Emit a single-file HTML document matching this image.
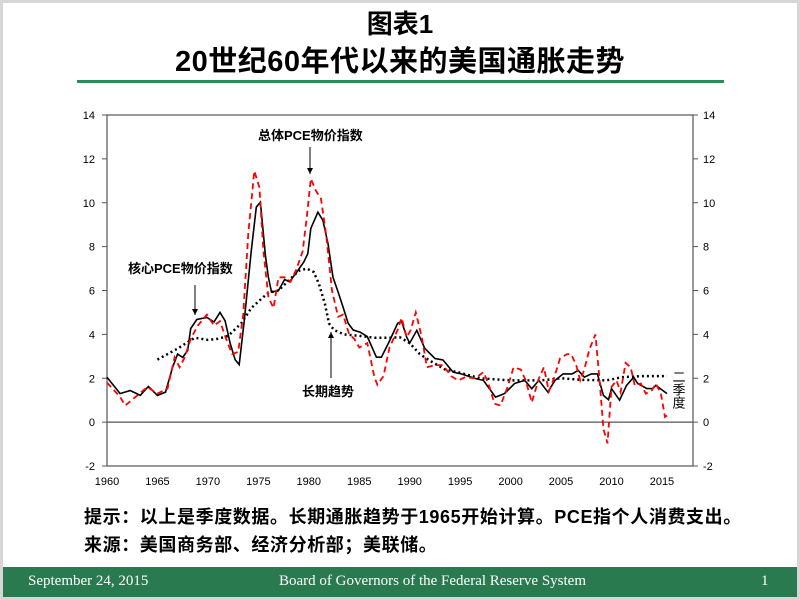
<!DOCTYPE html>
<html><head><meta charset="utf-8"><style>
body{margin:0;width:800px;height:600px;overflow:hidden;background:#fff;font-family:"Liberation Sans","Noto Sans CJK SC",sans-serif}
#frame{position:absolute;left:0;top:0;width:794px;height:594px;border:3px solid #d6d6d6;background:#fff}
.t{position:absolute;left:0;width:800px;text-align:center;font-weight:bold;color:#000}
</style></head><body>
<div id="frame"></div>
<div class="t" style="top:4px;font-size:26px">图表1</div>
<div class="t" style="top:38px;font-size:29px;letter-spacing:0.5px">20世纪60年代以来的美国通胀走势</div>
<div style="position:absolute;left:77px;top:80px;width:647px;height:3px;background:#2e8b57"></div>
<svg id="chart" width="800" height="600" style="position:absolute;left:0;top:0"></svg>
<div style="position:absolute;left:84px;top:503px;font-size:18px;font-weight:bold;letter-spacing:0.6px">提示：以上是季度数据。长期通胀趋势于1965开始计算。PCE指个人消费支出。</div>
<div style="position:absolute;left:84px;top:531px;font-size:18px;font-weight:bold;letter-spacing:0.6px">来源：美国商务部、经济分析部；美联储。</div>
<div style="position:absolute;left:3px;top:567px;width:794px;height:30px;background:#2a7a50;color:#fff;font-family:'Liberation Serif',serif;font-size:15px">
<span style="position:absolute;left:25px;top:6px">September 24, 2015</span>
<span style="position:absolute;left:276px;top:6px">Board of Governors of the Federal Reserve System</span>
<span style="position:absolute;left:758px;top:6px">1</span>
</div>
<script>
const yTicks=[-2,0,2,4,6,8,10,12,14];
const xTicks=[1960,1965,1970,1975,1980,1985,1990,1995,2000,2005,2010,2015];
const coreYears=[1960,1961.3,1962.3,1963.3,1964.1,1965,1965.8,1966.5,1967,1967.5,1968,1968.3,1968.9,1969.9,1970.6,1971.2,1971.7,1972.2,1972.7,1973.1,1973.6,1974.3,1974.8,1975.2,1975.7,1976,1976.3,1977,1977.6,1978.1,1978.8,1979.5,1979.9,1980.2,1980.9,1981.4,1981.9,1982.4,1982.9,1983.4,1983.9,1984.4,1985.1,1985.8,1986.7,1987.2,1988,1988.8,1989.2,1989.7,1990,1990.7,1991.5,1992.5,1993.3,1994.3,1995.1,1996.5,1997.3,1998.5,1999.4,2000.4,2001.4,2002.1,2002.8,2003.7,2004.4,2005.2,2006.1,2006.7,2007.3,2008,2008.6,2009.2,2009.7,2010,2010.8,2011.5,2012.2,2012.6,2013.5,2014.1,2014.4,2015.5];
const coreValues=[2.05,1.3,1.44,1.22,1.63,1.22,1.37,2.5,3.1,2.95,3.27,4.27,4.68,4.77,4.57,5.0,4.62,3.6,2.85,2.62,4.6,7.82,9.8,10.03,7.6,6.6,5.93,6.0,6.5,6.4,6.84,7.3,7.68,8.83,9.57,9.2,8.14,6.6,5.93,5.24,4.5,4.2,4.1,3.9,2.96,2.96,3.7,4.5,4.6,3.87,3.6,4.18,3.36,2.9,2.83,2.28,2.2,1.99,1.9,1.14,1.3,1.76,1.9,1.53,1.9,1.37,1.9,2.2,2.2,2.36,2.05,2.2,2.2,1.22,1.02,1.53,1.0,1.68,2.05,1.76,1.53,1.53,1.68,1.3];
const headYears=[1960,1961.3,1961.8,1963,1964,1965,1966,1966.7,1967.2,1967.7,1968.3,1969,1969.9,1970.6,1971.2,1971.8,1972.4,1973,1973.5,1974,1974.6,1975.1,1975.5,1976,1976.5,1977,1977.6,1978.2,1978.8,1979.4,1979.8,1980.2,1980.7,1981.2,1981.7,1982.3,1982.9,1983.4,1984,1984.5,1985,1985.8,1986.5,1986.8,1987.4,1988,1988.8,1989.2,1989.7,1990.1,1990.6,1991.2,1991.7,1992.5,1993.3,1994.1,1994.8,1995.5,1996.5,1997.3,1997.8,1998.4,1999,1999.7,2000.3,2001,2001.5,2002.1,2002.8,2003.3,2003.8,2004.3,2004.9,2005.6,2006,2006.5,2006.9,2007.3,2007.8,2008.4,2008.8,2009.2,2009.6,2010,2010.5,2010.9,2011.4,2011.9,2012.3,2012.9,2013.4,2014,2014.4,2014.9,2015.3,2015.5];
const headValues=[1.8,1.15,0.76,1.22,1.6,1.3,1.53,2.95,2.5,2.95,3.8,4.4,4.9,4.4,4.6,3.8,3.1,3.2,4.9,8.6,11.45,10.7,7.8,5.7,5.2,6.6,6.6,6.4,7.0,7.8,9.35,11.1,10.55,10.2,8.6,6.0,4.8,4.9,4.0,3.8,3.4,3.6,2.05,1.7,2.1,3.4,4.2,4.75,3.87,4.2,5.0,3.87,2.5,2.6,2.6,2.1,1.9,2.05,2.0,2.28,1.76,0.84,0.76,1.6,2.5,2.4,1.9,0.9,2.0,2.5,1.4,2.0,2.9,3.1,3.1,2.6,1.9,2.4,3.3,4.0,2.0,-0.3,-0.97,1.6,1.9,1.37,2.7,2.5,1.68,1.76,1.3,1.45,1.76,1.3,0.24,0.3];
const trendYears=[1965,1967,1968.7,1970,1971,1972,1973.3,1974.3,1975,1976,1977,1978,1979,1979.8,1980.5,1981,1981.6,1982,1982.5,1983.5,1985,1986.5,1988,1989,1990,1991,1992,1993.5,1995,1997,2000,2003,2005,2007,2009.5,2011,2013,2015.5];
const trendValues=[2.85,3.35,3.85,3.75,3.8,3.93,4.5,5.2,5.5,5.9,6.0,6.45,6.9,7.0,6.84,6.3,5.4,4.5,4.2,4.0,3.93,3.85,3.85,3.87,3.6,3.1,2.8,2.4,2.25,2.0,1.9,1.9,2.0,1.93,1.9,2.05,2.1,2.1];

const NS='http://www.w3.org/2000/svg';
const svg=document.getElementById('chart');
const L=107,R=693,T=115,B=466;
const X=y=>L+(y-1960)*10.09;
const Y=v=>B-(v+2)*(B-T)/16;
function mk(tag,attrs){const e=document.createElementNS(NS,tag);for(const k in attrs)e.setAttribute(k,attrs[k]);svg.appendChild(e);return e;}
let e=mk('rect',{x:L,y:T,width:R-L,height:B-T,fill:'none',stroke:'#555','stroke-width':1.2});


e=mk('line',{x1:L,x2:R,y1:Y(0),y2:Y(0),stroke:'#555','stroke-width':1.2});


yTicks.forEach(v=>{
 mk('line',{x1:L-5,x2:L,y1:Y(v),y2:Y(v),stroke:'#555'});
 mk('line',{x1:R,x2:R+5,y1:Y(v),y2:Y(v),stroke:'#555'});
 let t=mk('text',{x:L-12,y:Y(v)+4,'font-size':11,'text-anchor':'end'});t.textContent=v;
 
 
 t=mk('text',{x:R+10,y:Y(v)+4,'font-size':11});t.textContent=v;
 
 
});
xTicks.forEach(y=>{
 let t=mk('text',{x:X(y),y:485,'font-size':11,'text-anchor':'middle'});t.textContent=y;
 
 
});
function pts(ys,vs){return ys.map((y,i)=>X(y).toFixed(1)+','+Y(vs[i]).toFixed(1)).join(' ');}
e=mk('polyline',{points:pts(trendYears,trendValues),fill:'none',stroke:'#000','stroke-width':2.5,'stroke-dasharray':'2 3'});


e=mk('polyline',{points:pts(coreYears,coreValues),fill:'none',stroke:'#000','stroke-width':1.6});


e=mk('polyline',{points:pts(headYears,headValues),fill:'none',stroke:'#f00','stroke-width':1.8,'stroke-dasharray':'6 4'});


function lbl(x,y,s,name){const t=mk('text',{x:x,y:y,'font-size':13,'font-weight':'bold'});t.textContent=s;}
lbl(258,140,'总体PCE物价指数','headline-label');
lbl(128,273,'核心PCE物价指数','core-label');
lbl(302,396,'长期趋势','trend-label');
function arrow(x,y1,y2){mk('line',{x1:x,x2:x,y1:y1,y2:y2,stroke:'#000'});const d=y2>y1?-6:6;mk('polygon',{points:`${x-3},${y2+d} ${x+3},${y2+d} ${x},${y2}`,fill:'#000'});}
arrow(310,147,174);arrow(195,285,315);arrow(331,378,332);
const q=mk('text',{'font-size':13,'writing-mode':'tb',x:678,y:370});q.textContent='二季度';


</script>
</body></html>
